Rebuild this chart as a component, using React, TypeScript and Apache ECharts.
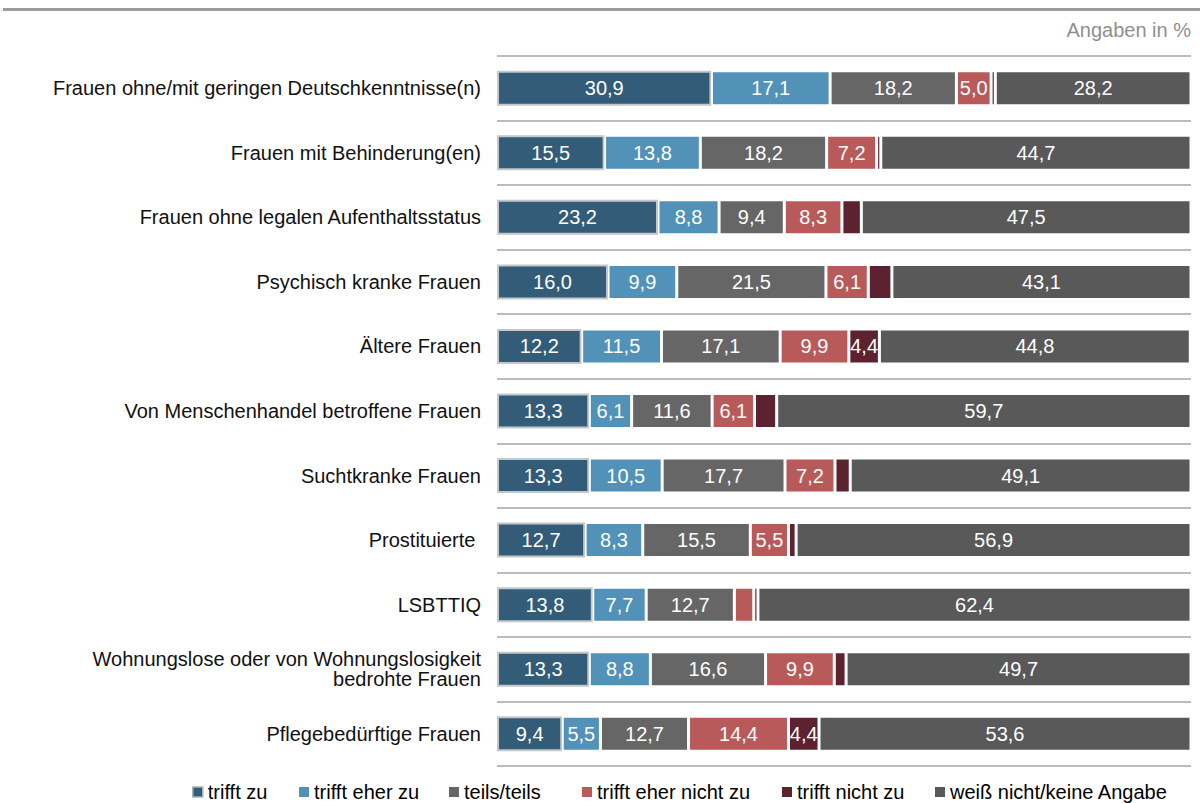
import React, { useEffect, useRef } from "react";
import * as echarts from "echarts";

const categories = [
  "Frauen ohne/mit geringen Deutschkenntnisse(n)",
  "Frauen mit Behinderung(en)",
  "Frauen ohne legalen Aufenthaltsstatus",
  "Psychisch kranke Frauen",
  "Ältere Frauen",
  "Von Menschenhandel betroffene Frauen",
  "Suchtkranke Frauen",
  "Prostituierte ",
  "LSBTTIQ",
  "Wohnungslose oder von Wohnungslosigkeit\nbedrohte Frauen",
  "Pflegebedürftige Frauen",
];

const trifftZu = [30.9, 15.5, 23.2, 16.0, 12.2, 13.3, 13.3, 12.7, 13.8, 13.3, 9.4];
const trifftEherZu = [17.1, 13.8, 8.8, 9.9, 11.5, 6.1, 10.5, 8.3, 7.7, 8.8, 5.5];
const teilsTeils = [18.2, 18.2, 9.4, 21.5, 17.1, 11.6, 17.7, 15.5, 12.7, 16.6, 12.7];
const trifftEherNichtZu = [5.0, 7.2, 8.3, 6.1, 9.9, 6.1, 7.2, 5.5, 2.8, 9.9, 14.4];
const trifftNichtZu = [0.6, 0.6, 2.8, 3.4, 4.4, 3.2, 2.2, 1.1, 0.6, 1.7, 4.4];
const weissNicht = [28.2, 44.7, 47.5, 43.1, 44.8, 59.7, 49.1, 56.9, 62.4, 49.7, 53.6];

const seriesNames = [
  "trifft zu",
  "trifft eher zu",
  "teils/teils",
  "trifft eher nicht zu",
  "trifft nicht zu",
  "weiß nicht/keine Angabe",
];
const seriesData = [trifftZu, trifftEherZu, teilsTeils, trifftEherNichtZu, trifftNichtZu, weissNicht];
const seriesColors = ["#335c78", "#5291b8", "#666666", "#b85a5a", "#5d2230", "#595959"];
const legendLeft = [192, 299, 449, 582, 782, 935];

const FONT = "'Liberation Sans', Arial, sans-serif";
const FS = 20;

export default function App() {
  const ref = useRef<HTMLDivElement>(null);

  useEffect(() => {
    if (!ref.current) return;
    const chart = echarts.init(ref.current, null, { renderer: "svg" });

    const series = seriesNames.map((name, i) => ({
      name,
      type: "bar",
      stack: "total",
      barWidth: 35,
      data: seriesData[i],
      itemStyle: {
        color: seriesColors[i],
        borderColor: i === 0 ? "#c4c8cc" : "#ffffff",
        borderWidth: i === 0 ? 2 : 1.5,
      },
      label: {
        show: true,
        position: "inside",
        color: "#ffffff",
        fontSize: FS,
        fontFamily: FONT,
        formatter: (p: any) => (p.value >= 4 ? p.value.toFixed(1).replace(".", ",") : ""),
      },
      emphasis: { disabled: true },
    }));

    const legends = seriesNames.map((name, i) => ({
      data: [name],
      left: legendLeft[i],
      top: 782,
      padding: 0,
      itemWidth: 10,
      itemHeight: 10,
      icon: "rect",
      selectedMode: false,
      itemStyle: i === 0 ? { borderColor: "#a9b3bb", borderWidth: 1.5 } : { borderWidth: 0 },
      textStyle: { color: "#000000", fontSize: FS, fontFamily: FONT, lineHeight: 20 },
    }));

    chart.setOption({
      animation: false,
      backgroundColor: "#ffffff",
      grid: { left: 497, right: 9, top: 56, bottom: 37, containLabel: false },
      xAxis: {
        type: "value",
        min: 0,
        max: 100,
        show: false,
      },
      yAxis: {
        type: "category",
        inverse: true,
        data: categories,
        axisLine: { show: false },
        axisTick: { show: false },
        splitLine: { show: true, lineStyle: { color: "#a6a6a6", width: 1.5 } },
        axisLabel: {
          color: "#111111",
          fontSize: FS,
          fontFamily: FONT,
          margin: 16,
          lineHeight: 20,
          align: "right",
        },
      },
      legend: legends,
      graphic: [
        {
          type: "line",
          shape: { x1: 3, y1: 9.5, x2: 1200, y2: 9.5 },
          style: { stroke: "#9c9c9c", lineWidth: 3 },
        },
        {
          type: "text",
          right: 9,
          top: 20,
          style: {
            text: "Angaben in %",
            fill: "#8f8f8f",
            fontSize: FS,
            fontFamily: FONT,
          },
        },
      ],
      series,
    });

    return () => chart.dispose();
  }, []);

  return (
    <div
      ref={ref}
      style={{ position: "fixed", left: 0, top: 0, width: 1200, height: 803, background: "#fff" }}
    />
  );
}
